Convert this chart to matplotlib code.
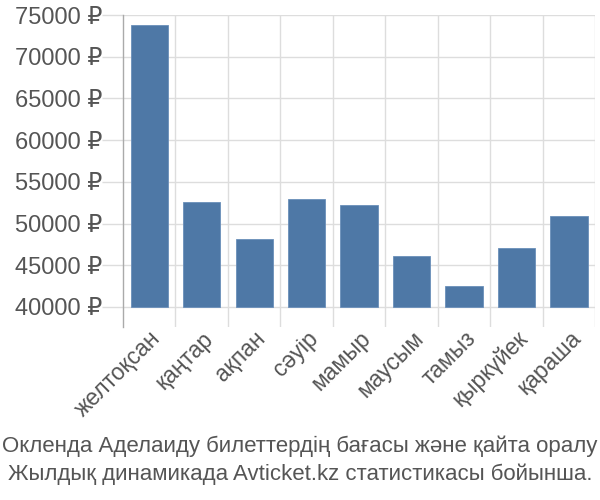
import matplotlib
matplotlib.use("Agg")
import matplotlib.pyplot as plt
from matplotlib.ticker import FixedLocator, NullFormatter

months = ["желтоқсан", "қаңтар", "ақпан", "сәуір", "мамыр", "маусым", "тамыз", "қыркүйек", "қараша"]
prices = [73800, 52550, 48150, 52950, 52200, 46100, 42500, 47050, 50900]
yticks = [40000, 45000, 50000, 55000, 60000, 65000, 70000, 75000]
ytick_labels = [f"{v} ₽" for v in yticks]
caption = ["Окленда Аделаиду билеттердің бағасы және қайта оралу",
           "Жылдық динамикада Avticket.kz статистикасы бойынша."]

plt.rcParams['font.family'] = ['Liberation Sans', 'DejaVu Sans']
text_color = "#555555"
grid_color = "#dddddd"

fig = plt.figure(figsize=(6, 5), dpi=100)
ax = fig.add_axes([0.205, 0.346, 0.787, 0.624])

x = list(range(len(months)))
base = 40000
ax.bar(x, [p - base for p in prices], bottom=base, width=0.71, color="#4e78a6",
       edgecolor="#6a8fba", linewidth=0.6, zorder=3)

ax.set_xlim(-0.5, len(months) - 0.5)
ax.set_ylim(37600, 75000)
ax.yaxis.set_major_locator(FixedLocator(yticks))
ax.set_yticklabels(ytick_labels)
ax.set_xticks(x)
ax.set_xticklabels(months, rotation=45, ha="right", rotation_mode="anchor")
ax.xaxis.set_minor_locator(FixedLocator([i + 0.5 for i in x]))
ax.xaxis.set_minor_formatter(NullFormatter())

ax.grid(axis="y", which="major", color=grid_color, linewidth=1, zorder=0)
ax.grid(axis="x", which="minor", color=grid_color, linewidth=1, zorder=0)
ax.tick_params(axis="x", which="both", length=0, colors=text_color, labelsize=16.5, pad=0)
ax.tick_params(axis="y", which="major", length=15, width=1, color=grid_color,
               labelcolor=text_color, labelsize=17, pad=0)

for s in ["top", "right", "bottom"]:
    ax.spines[s].set_visible(False)
ax.spines["left"].set_color("#aaaaaa")
ax.spines["left"].set_linewidth(1)

fig.text(0.5, 0.108, caption[0], ha="center", va="center", color=text_color, fontsize=16)
fig.text(0.5, 0.052, caption[1], ha="center", va="center", color=text_color, fontsize=16)

fig.savefig("out.png", dpi=100)
